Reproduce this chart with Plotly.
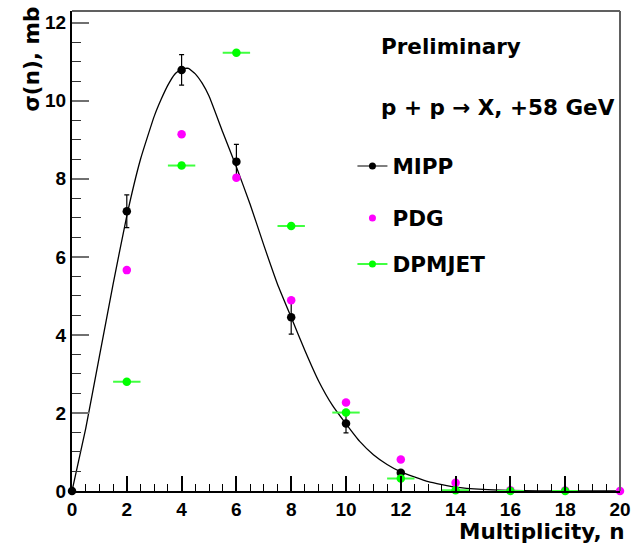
import plotly.graph_objects as go

# ---- data ----
mipp_n = [0, 2, 4, 6, 8, 10, 12]
mipp_sigma = [0.0, 7.17, 10.79, 8.44, 4.45, 1.73, 0.47]
mipp_err = [0.0, 0.42, 0.39, 0.44, 0.43, 0.24, 0.05]

pdg_n = [2, 4, 6, 8, 10, 12, 14, 16, 18, 20]
pdg_sigma = [5.66, 9.14, 8.03, 4.89, 2.27, 0.81, 0.21, 0.02, 0.01, 0.0]

dpm_n = [2, 4, 6, 8, 10, 12, 14, 16, 18]
dpm_sigma = [2.80, 8.34, 11.23, 6.79, 2.01, 0.32, 0.02, 0.0, 0.0]
dpm_xerr = [0.5] * len(dpm_n)

# fitted curve through MIPP points
fit_n = [0, 0.5, 1, 1.5, 2, 2.5, 3, 3.25, 3.5, 3.75, 4, 4.25, 4.5, 4.75, 5, 5.5, 6, 6.5,
         7, 7.5, 8, 8.5, 9, 9.5, 10, 10.5, 11, 11.5, 12, 13, 14, 15, 16, 17, 18, 20]
fit_sigma = [0.0, 1.6, 3.45, 5.3, 7.05, 8.5, 9.6, 10.03, 10.4, 10.68, 10.82, 10.83,
             10.69, 10.45, 10.12, 9.2, 8.3, 7.35, 6.3, 5.3, 4.45, 3.6, 2.82, 2.2,
             1.72, 1.27, 0.93, 0.68, 0.49, 0.24, 0.1, 0.04, 0.015, 0.005, 0.0, 0.0]

x_ticks = [0, 2, 4, 6, 8, 10, 12, 14, 16, 18, 20]
y_ticks = [0, 2, 4, 6, 8, 10, 12]

TICKFONT = "Liberation Sans"
TEXTFONT = "DejaVu Sans"
TS = 21.5
GREEN = "#00ff00"
MAGENTA = "#ff00ff"

fig = go.Figure()

fig.add_trace(go.Scatter(
    x=fit_n, y=fit_sigma, mode="lines",
    line=dict(color="black", width=1.3, shape="spline", smoothing=0.4),
    showlegend=False, cliponaxis=True, hoverinfo="skip"))

fig.add_trace(go.Scatter(
    x=mipp_n, y=mipp_sigma, mode="markers",
    marker=dict(color="black", size=8.5),
    error_y=dict(type="data", array=mipp_err, visible=True, color="black", thickness=1.2, width=2.5),
    showlegend=False, cliponaxis=False))

fig.add_trace(go.Scatter(
    x=pdg_n, y=pdg_sigma, mode="markers",
    marker=dict(color=MAGENTA, size=8.5),
    showlegend=False, cliponaxis=False))

fig.add_trace(go.Scatter(
    x=dpm_n, y=dpm_sigma, mode="markers",
    marker=dict(color=GREEN, size=8.5),
    error_x=dict(type="data", array=dpm_xerr, visible=True, color="#40ff40", thickness=2, width=0),
    showlegend=False, cliponaxis=False))

# legend entries
fig.add_trace(go.Scatter(x=[None], y=[None], mode="lines+markers", name="MIPP",
                         line=dict(color="black", width=1.2), marker=dict(color="black", size=7),
                         legend="legend"))
fig.add_trace(go.Scatter(x=[None], y=[None], mode="markers", name="PDG",
                         marker=dict(color=MAGENTA, size=7), legend="legend2"))
fig.add_trace(go.Scatter(x=[None], y=[None], mode="lines+markers", name="DPMJET",
                         line=dict(color=GREEN, width=1.5), marker=dict(color=GREEN, size=7),
                         legend="legend3"))

L, R, T, B = 72, 17, 11, 54
W, H = 642, 545
pw, ph = W - L - R, H - T - B


def px_x(px):
    return (px - L) / pw


def px_y(py):
    return (H - B - py) / ph


tfont = dict(family=TEXTFONT, size=TS, color="black", weight="bold")
leg_common = dict(font=tfont, bgcolor="rgba(0,0,0,0)", borderwidth=0, itemwidth=30,
                  xanchor="left", yanchor="middle")

fig.update_layout(
    width=W, height=H,
    margin=dict(l=L, r=R, t=T, b=B),
    paper_bgcolor="white", plot_bgcolor="white",
    font=dict(family=TICKFONT, color="black"),
    legend=dict(x=px_x(355), y=px_y(166), **leg_common),
    legend2=dict(x=px_x(355), y=px_y(218), **leg_common),
    legend3=dict(x=px_x(355), y=px_y(264), **leg_common),
    xaxis=dict(range=[0, 20], tickvals=x_ticks, ticktext=[str(v) for v in x_ticks],
               ticks="inside", ticklen=15, tickwidth=1.5, tickcolor="black",
               minor=dict(dtick=0.5, ticks="inside", ticklen=7, tickwidth=1.2, tickcolor="black"),
               showline=True, linecolor="black", linewidth=2, showgrid=False, zeroline=False,
               tickfont=dict(family=TICKFONT, size=19, color="black", weight="bold")),
    yaxis=dict(range=[0, 12.3], tickvals=y_ticks, ticktext=[str(v) for v in y_ticks],
               ticks="inside", ticklen=17, tickwidth=2, tickcolor="#707070",
               minor=dict(dtick=0.5, ticks="inside", ticklen=9, tickwidth=1.2, tickcolor="#333333"),
               showline=True, linecolor="black", linewidth=2, showgrid=False, zeroline=False,
               tickfont=dict(family=TICKFONT, size=19, color="black", weight="bold")),
    shapes=[
        dict(type="line", xref="x domain", yref="y domain", x0=0, x1=1, y0=1, y1=1,
             line=dict(color="#606060", width=2)),
        dict(type="line", xref="x domain", yref="y domain", x0=1, x1=1, y0=0, y1=1,
             line=dict(color="#606060", width=2)),
    ],
    annotations=[
        dict(text="Multiplicity, n", xref="paper", yref="paper", x=1, y=px_y(531),
             xanchor="right", yanchor="middle", xshift=7, showarrow=False, font=tfont),
        dict(text="σ(n), mb", xref="paper", yref="paper", x=px_x(31), y=px_y(5),
             xanchor="center", yanchor="top", textangle=-90, showarrow=False, font=tfont),
        dict(text="Preliminary", xref="paper", yref="paper", x=px_x(382), y=px_y(47),
             xanchor="left", yanchor="middle", showarrow=False, font=tfont),
        dict(text="p + p → X, +58 GeV", xref="paper", yref="paper", x=px_x(382), y=px_y(108),
             xanchor="left", yanchor="middle", showarrow=False, font=tfont),
    ],
)

fig.write_html("out.html")
